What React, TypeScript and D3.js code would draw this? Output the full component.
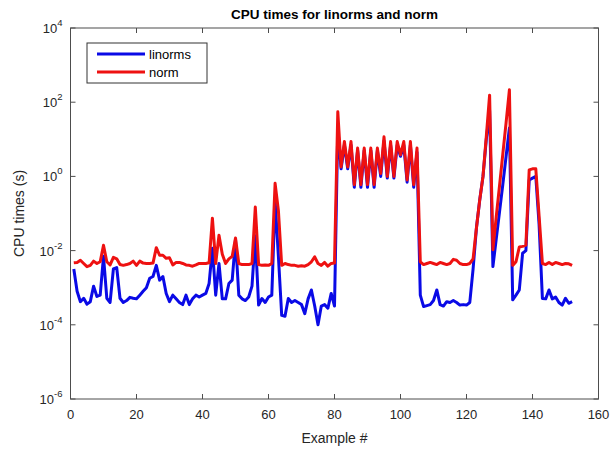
import * as d3 from "d3";

// CPU times (s) for each example
const linorms = [
  0.0032, 0.0008, 0.00042, 0.00052, 0.00036, 0.00042, 0.0011, 0.00058, 0.00063, 0.007,
  0.00052, 0.0004, 0.0032, 0.0035, 0.00052, 0.0004, 0.00045, 0.00055, 0.00052, 0.0005,
  0.00063, 0.0008, 0.001, 0.0018, 0.002, 0.004, 0.0016, 0.002, 0.0007, 0.00042,
  0.00063, 0.0005, 0.0004, 0.00035, 0.00063, 0.00035, 0.0005, 0.00063, 0.00056, 0.00063,
  0.0007, 0.0013, 0.0115, 0.00063, 0.0045, 0.0005, 0.0005, 0.0013, 0.0016, 0.02,
  0.00063, 0.0005, 0.00045, 0.00056, 0.0011, 0.025, 0.00034, 0.00051, 0.0004, 0.00056,
  0.00063, 0.23, 0.007, 0.00018, 0.00017, 0.00051, 0.0004, 0.00045, 0.0004, 0.00035,
  0.0002, 0.0005, 0.00087, 0.00032, 0.0001, 0.00032, 0.00035, 0.00028, 0.0007, 0.00032,
  20, 1.6, 7, 1.6, 7, 0.51, 5, 0.51, 5, 0.51,
  5, 0.51, 5, 1.0, 9, 0.9, 7, 0.9, 7, 3.5,
  7, 0.7, 7, 0.51, 4.5, 0.00063, 0.00031, 0.00033, 0.00035, 0.00045,
  0.00087, 0.00035, 0.00032, 0.00042, 0.0004, 0.00045, 0.0004, 0.00034, 0.00035, 0.00034,
  0.0004, 0.0032, 0.04, 0.23, 1.0, 10, 60, 0.0037, 0.02, 0.11,
  0.6, 3.5, 20, 0.00047, 0.00063, 0.00087, 0.0085, 0.01, 0.8, 0.9,
  1.0, 0.05, 0.00051, 0.0005, 0.00087, 0.0005, 0.00056, 0.0004, 0.00034, 0.00052,
  0.00038, 0.00042,
];

const norm = [
  0.0047, 0.0048, 0.0055, 0.0045, 0.0037, 0.004, 0.0052, 0.0045, 0.005, 0.014,
  0.005, 0.0041, 0.0066, 0.006, 0.0042, 0.004, 0.0042, 0.0045, 0.0052, 0.004,
  0.0052, 0.0046, 0.0045, 0.0045, 0.0046, 0.012, 0.0075, 0.0075, 0.0062, 0.0064,
  0.0041, 0.0048, 0.0048, 0.0045, 0.0041, 0.004, 0.0038, 0.0041, 0.0045, 0.0045,
  0.0045, 0.0047, 0.075, 0.0045, 0.026, 0.008, 0.0045, 0.006, 0.007, 0.022,
  0.0045, 0.0042, 0.0042, 0.0042, 0.0045, 0.15, 0.0042, 0.004, 0.0041, 0.004,
  0.0045, 0.65, 0.12, 0.004, 0.0045, 0.0042, 0.004, 0.004, 0.0038, 0.0039,
  0.0038, 0.0042, 0.005, 0.0068, 0.0045, 0.004, 0.0048, 0.0038, 0.0045, 0.0046,
  55, 1.8, 8.7, 1.8, 8.7, 0.6, 5.8, 0.6, 5.8, 0.6,
  5.8, 0.6, 5.8, 1.2, 11.7, 1.0, 8.7, 1.0, 8.7, 3.8,
  8.7, 0.8, 8.7, 0.6, 5.8, 0.005, 0.0042, 0.0045, 0.0048, 0.0045,
  0.0042, 0.0048, 0.0045, 0.0042, 0.0045, 0.0058, 0.0055, 0.0045, 0.0042, 0.0042,
  0.0045, 0.006, 0.04, 0.23, 1.0, 12, 155, 0.0105, 0.08, 0.55,
  4, 28, 215, 0.004, 0.005, 0.0125, 0.013, 0.014, 1.5, 1.6,
  1.6, 0.085, 0.0045, 0.0042, 0.0048, 0.0042, 0.0048, 0.0045, 0.0042, 0.0045,
  0.0044, 0.004,
];

const xTicks = [0, 20, 40, 60, 80, 100, 120, 140, 160];
const yExponents = [-6, -4, -2, 0, 2, 4];

const width = 610;
const height = 450;
const margin = { top: 28, right: 11.5, bottom: 51, left: 70.5 };
const font = "Liberation Sans, Arial, sans-serif";

const App = () => {
  const x = d3
    .scaleLinear()
    .domain([0, 160])
    .range([margin.left, width - margin.right]);
  const y = d3
    .scaleLog()
    .domain([1e-6, 1e4])
    .range([height - margin.bottom, margin.top]);

  const line = d3
    .line<number>()
    .x((d, i) => x(i + 1))
    .y((d) => y(d));

  const x0 = x.range()[0];
  const x1 = x.range()[1];
  const y0 = y.range()[0];
  const y1 = y.range()[1];
  const tick = 5;

  return (
    <svg
      width={width}
      height={height}
      style={{ position: "absolute", left: 0, top: 0, background: "white" }}
      fontFamily={font}
    >
      {/* title */}
      <text
        x={(x0 + x1) / 2}
        y={19}
        textAnchor="middle"
        fontSize={13.5}
        fontWeight="bold"
        fill="#000"
      >
        CPU times for linorms and norm
      </text>

      {/* series: linorms first, norm over it */}
      <path d={line(linorms) || ""} fill="none" stroke="#0a0ae6" strokeWidth={3} strokeLinejoin="round" />
      <path d={line(norm) || ""} fill="none" stroke="#ee1111" strokeWidth={3} strokeLinejoin="round" />

      {/* axes box */}
      <rect x={x0} y={y1} width={x1 - x0} height={y0 - y1} fill="none" stroke="#4d4d4d" strokeWidth={1} />

      {/* x ticks */}
      {xTicks.map((t) => (
        <g key={"x" + t}>
          <line x1={x(t)} x2={x(t)} y1={y0} y2={y0 - tick} stroke="#4d4d4d" />
          <line x1={x(t)} x2={x(t)} y1={y1} y2={y1 + tick} stroke="#4d4d4d" />
          <text x={x(t)} y={y0 + 20} textAnchor="middle" fontSize={13} fill="#262626">
            {t}
          </text>
        </g>
      ))}

      {/* y ticks */}
      {yExponents.map((e) => {
        const yy = y(Math.pow(10, e));
        return (
          <g key={"y" + e}>
            <line x1={x0} x2={x0 + tick} y1={yy} y2={yy} stroke="#4d4d4d" />
            <line x1={x1} x2={x1 - tick} y1={yy} y2={yy} stroke="#4d4d4d" />
            <text x={x0 - 8} y={yy + 5} textAnchor="end" fontSize={13} fill="#262626">
              10
              <tspan fontSize={9.5} dy={-7}>
                {e}
              </tspan>
            </text>
          </g>
        );
      })}

      {/* axis labels */}
      <text x={(x0 + x1) / 2} y={443} textAnchor="middle" fontSize={14} fill="#262626">
        Example #
      </text>
      <text
        transform={`translate(24,${(y0 + y1) / 2}) rotate(-90)`}
        textAnchor="middle"
        fontSize={14}
        fill="#262626"
      >
        CPU times (s)
      </text>

      {/* legend */}
      <g>
        <rect x={87} y={43} width={120} height={40} fill="white" stroke="#333" strokeWidth={1} />
        <line x1={97} x2={145} y1={54} y2={54} stroke="#0a0ae6" strokeWidth={3} />
        <text x={149} y={58.5} fontSize={13} fill="#000">
          linorms
        </text>
        <line x1={97} x2={145} y1={72} y2={72} stroke="#ee1111" strokeWidth={3} />
        <text x={149} y={76.5} fontSize={13} fill="#000">
          norm
        </text>
      </g>
    </svg>
  );
};

export default App;
